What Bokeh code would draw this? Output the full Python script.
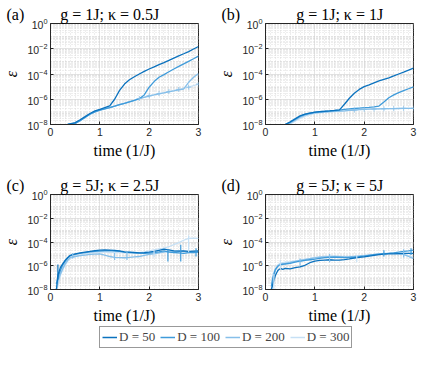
from bokeh.plotting import figure
from bokeh.layouts import column, row
from bokeh.models import FixedTicker, Legend, LegendItem, ColumnDataSource
from bokeh.embed import file_html
from bokeh.resources import INLINE

# ---------------- data ----------------
series_labels = ["D = 50", "D = 100", "D = 200", "D = 300"]
colors = ["#0B72BE", "#3F9BDA", "#86BFE9", "#C6E0F5"]

panel_titles = ["g = 1J; κ = 0.5J", "g = 1J; κ = 1J", "g = 5J; κ = 2.5J", "g = 5J; κ = 5J"]
panel_tags = ["(a)", "(b)", "(c)", "(d)"]

t_a = [0.35, 0.5, 0.6, 0.7, 0.8, 0.9, 1.0, 1.1, 1.2, 1.3, 1.4, 1.5, 1.6, 1.7, 1.8, 1.9,
       2.0, 2.1, 2.2, 2.3, 2.4, 2.5, 2.6, 2.7, 2.8, 2.9, 3.0]
a_D50 = [1e-8, 1.4e-8, 2.4e-8, 4.2e-8, 7.5e-8, 1.2e-7, 1.6e-7, 2.2e-7, 3e-7, 1e-6, 5e-6, 1.6e-5,
         3.5e-5, 6e-5, 1e-4, 1.6e-4, 2.5e-4, 3.7e-4, 5.5e-4, 8e-4, 1.2e-3, 1.8e-3, 2.7e-3, 4e-3,
         6e-3, 9.5e-3, 1.5e-2]
a_D100 = [1e-8, 1.2e-8, 2e-8, 3.6e-8, 6.5e-8, 1e-7, 1.35e-7, 1.75e-7, 2.15e-7, 2.8e-7, 3.7e-7,
          4.8e-7, 6.3e-7, 8.3e-7, 1.1e-6, 2.2e-6, 9e-6, 2.5e-5, 5.5e-5, 9e-5, 1.5e-4, 2.5e-4,
          4e-4, 6.3e-4, 1e-3, 1.6e-3, 2.6e-3]
a_D200 = [1e-8, 1.2e-8, 2e-8, 3.6e-8, 6.5e-8, 1e-7, 1.35e-7, 1.75e-7, 2.15e-7, 2.8e-7, 3.7e-7,
          4.8e-7, 6.3e-7, 8.3e-7, 1.1e-6, 1.4e-6, 1.8e-6, 2.2e-6, 2.7e-6, 3.2e-6, 3.9e-6, 4.6e-6,
          5.5e-6, 6.5e-6, 2.2e-5, 5.5e-5, 1.1e-4]
a_D300 = [1e-8, 1.3e-8, 2.1e-8, 3.8e-8, 6.8e-8, 1.05e-7, 1.4e-7, 1.8e-7, 2.2e-7, 2.9e-7, 3.8e-7,
          5e-7, 6.5e-7, 8.5e-7, 1.15e-6, 1.5e-6, 1.9e-6, 2.3e-6, 2.8e-6, 3.4e-6, 4.1e-6, 5e-6,
          6e-6, 7.3e-6, 9e-6, 1.2e-5, 1.6e-5]

t_b = [0.4, 0.5, 0.6, 0.7, 0.8, 0.9, 1.0, 1.1, 1.2, 1.3, 1.4, 1.5, 1.6, 1.7, 1.8, 1.9,
       2.0, 2.1, 2.2, 2.3, 2.4, 2.5, 2.6, 2.7, 2.8, 2.9, 3.0]
b_D50 = [1e-8, 1.6e-8, 2.8e-8, 4.8e-8, 6.5e-8, 8e-8, 9.5e-8, 1.05e-7, 1.12e-7, 1.2e-7, 1.3e-7,
         1.45e-7, 4e-7, 1.2e-6, 3e-6, 6e-6, 1e-5, 1.4e-5, 2e-5, 2.8e-5, 3.8e-5, 5e-5, 7e-5,
         1e-4, 1.4e-4, 2e-4, 2.9e-4]
b_D100 = [1e-8, 1.5e-8, 2.6e-8, 4.5e-8, 6.3e-8, 7.8e-8, 9.2e-8, 1.02e-7, 1.1e-7, 1.18e-7, 1.28e-7,
          1.4e-7, 1.55e-7, 1.7e-7, 1.85e-7, 2e-7, 2.15e-7, 2.3e-7, 2.5e-7, 2.9e-7, 6e-7, 1.3e-6,
          2.2e-6, 3.3e-6, 4.8e-6, 6.8e-6, 9.5e-6]
b_D200 = [1e-8, 1.3e-8, 2.2e-8, 3.8e-8, 5.5e-8, 7e-8, 8.2e-8, 9e-8, 9.7e-8, 1.03e-7, 1.08e-7,
          1.13e-7, 1.2e-7, 1.3e-7, 1.4e-7, 1.5e-7, 1.6e-7, 1.65e-7, 1.7e-7, 1.75e-7, 1.78e-7,
          1.8e-7, 1.82e-7, 1.85e-7, 1.87e-7, 1.9e-7, 1.9e-7]
b_D300 = [9e-9, 1.1e-8, 1.8e-8, 3e-8, 4.6e-8, 6.2e-8, 7.5e-8, 8.5e-8, 9.3e-8, 1e-7, 1.06e-7,
          1.12e-7, 1.2e-7, 1.3e-7, 1.4e-7, 1.5e-7, 1.58e-7, 1.63e-7, 1.68e-7, 1.72e-7, 1.76e-7,
          1.8e-7, 1.83e-7, 1.86e-7, 1.88e-7, 1.9e-7, 1.92e-7]

t_c = [0.12, 0.15, 0.2, 0.25, 0.3, 0.35, 0.4, 0.5, 0.6, 0.7, 0.8, 0.9, 1.0, 1.1, 1.2, 1.3, 1.4,
       1.5, 1.6, 1.7, 1.8, 1.9, 2.0, 2.1, 2.2, 2.3, 2.4, 2.5, 2.6, 2.7, 2.8, 2.9, 3.0]
c_D50 = [1e-8, 1.6e-7, 7e-7, 1.5e-6, 3e-6, 5e-6, 7.5e-6, 1e-5, 1.2e-5, 1.4e-5, 1.6e-5, 1.9e-5,
         2.1e-5, 2.2e-5, 2.1e-5, 2e-5, 1.8e-5, 1.5e-5, 1.4e-5, 1.3e-5, 1.2e-5, 1.25e-5, 1.4e-5,
         1.6e-5, 2e-5, 2.5e-5, 2.2e-5, 1.8e-5, 1.7e-5, 1.8e-5, 1.6e-5, 1.7e-5, 1.8e-5]
c_D100 = [3e-8, 1e-7, 4e-7, 1.2e-6, 2.5e-6, 4.5e-6, 7e-6, 9e-6, 1.1e-5, 1.3e-5, 1.5e-5, 1.6e-5,
          1.7e-5, 1.8e-5, 1.9e-5, 1.7e-5, 1.6e-5, 1.4e-5, 1.3e-5, 1.2e-5, 1.15e-5, 1.1e-5, 1.15e-5,
          1.3e-5, 1.5e-5, 1.8e-5, 1.4e-5, 1.3e-5, 1.2e-5, 1.1e-5, 1.3e-5, 1.3e-5, 1.4e-5]
c_D200 = [1e-8, 5e-8, 2e-7, 6e-7, 1.5e-6, 3e-6, 5e-6, 6e-6, 7e-6, 8e-6, 9e-6, 9.5e-6, 1e-5, 8e-6,
          6e-6, 5e-6, 4.8e-6, 4.7e-6, 5e-6, 5.5e-6, 6e-6, 7.5e-6, 9e-6, 1e-5, 1.2e-5, 1.4e-5,
          1.6e-5, 1.7e-5, 1.8e-5, 1.6e-5, 1.5e-5, 1.5e-5, 1.6e-5]
c_D300 = [9e-9, 2e-8, 1.5e-7, 5e-7, 1.2e-6, 2.5e-6, 4e-6, 6e-6, 8e-6, 1e-5, 1.2e-5, 1.3e-5,
          1.4e-5, 1.4e-5, 1.35e-5, 1.3e-5, 1.3e-5, 1.25e-5, 1.2e-5, 1.2e-5, 1.3e-5, 1.5e-5, 1.8e-5,
          2.2e-5, 2.6e-5, 3e-5, 4e-5, 6e-5, 9e-5, 1.4e-4, 2e-4, 2.1e-4, 2e-4]

t_d = t_c
d_D50 = [1e-8, 3e-8, 1.5e-7, 4e-7, 6e-7, 5e-7, 6e-7, 5.5e-7, 7e-7, 8e-7, 1.1e-6, 1.8e-6, 2.5e-6,
         2.8e-6, 3e-6, 3.2e-6, 3e-6, 3e-6, 3.3e-6, 3.8e-6, 4.5e-6, 5e-6, 5.5e-6, 6.5e-6, 7.5e-6,
         8.5e-6, 9.5e-6, 1e-5, 1e-5, 1.05e-5, 1.1e-5, 1.1e-5, 1.1e-5]
d_D100 = [2e-8, 1e-7, 5e-7, 9e-7, 1.2e-6, 1.3e-6, 1.4e-6, 1.6e-6, 2e-6, 2.4e-6, 2.8e-6, 3.2e-6,
          3.6e-6, 4.2e-6, 4.8e-6, 5e-6, 5.2e-6, 5e-6, 4.8e-6, 5e-6, 5.3e-6, 5.8e-6, 6.5e-6, 7.5e-6,
          8.5e-6, 9.5e-6, 1.05e-5, 1.1e-5, 1.2e-5, 1.4e-5, 1.6e-5, 1.8e-5, 2.1e-5]
d_D200 = [1e-8, 6e-8, 4e-7, 1e-6, 1.4e-6, 1.5e-6, 1.6e-6, 1.9e-6, 2.3e-6, 2.8e-6, 3.3e-6, 4e-6,
          4.6e-6, 5.2e-6, 5.6e-6, 5.8e-6, 6e-6, 5.8e-6, 5.5e-6, 5.6e-6, 6e-6, 6.5e-6, 7e-6, 7.8e-6,
          8.5e-6, 9.5e-6, 1e-5, 1.1e-5, 1.1e-5, 1e-5, 9e-6, 6e-6, 4e-6]
d_D300 = [1e-8, 2e-7, 6e-7, 1.2e-6, 1.6e-6, 1.8e-6, 2e-6, 2.2e-6, 2.6e-6, 3e-6, 3.6e-6, 4.2e-6,
          5e-6, 5.5e-6, 6e-6, 6.5e-6, 6.5e-6, 6.2e-6, 6e-6, 6e-6, 6.2e-6, 6.8e-6, 7.5e-6, 8e-6,
          9e-6, 1e-5, 1.1e-5, 1.15e-5, 1.2e-5, 1.1e-5, 9e-6, 7e-6, 5e-6]

# error bars (time, lower, upper, series index)
eb_c_t = [0.15, 0.45, 1.3, 1.55, 2.1, 2.38, 2.64, 2.8, 2.95]
eb_c_lo = [7e-8, 4e-6, 3e-6, 3e-6, 5e-6, 2.3e-6, 2.3e-6, 1.4e-5, 6e-6]
eb_c_hi = [1.3e-6, 1.2e-5, 1.2e-5, 1.5e-5, 2e-5, 2.5e-5, 6e-5, 3.5e-4, 3e-5]
eb_c_s = [0, 2, 2, 2, 3, 1, 1, 3, 1]
eb_d_t = [0.17, 0.3, 0.7, 1.3, 1.85, 2.4, 2.8, 2.95]
eb_d_lo = [1e-8, 5e-7, 1e-6, 2e-6, 2e-6, 6e-6, 5e-6, 8e-6]
eb_d_hi = [2e-7, 3e-6, 4e-6, 1e-5, 8e-6, 2e-5, 2.5e-5, 3e-5]
eb_d_s = [3, 3, 2, 2, 3, 1, 2, 1]

panels = [
    (t_a, [a_D50, a_D100, a_D200, a_D300], None),
    (t_b, [b_D50, b_D100, b_D200, b_D300], None),
    (t_c, [c_D50, c_D100, c_D200, c_D300], (eb_c_t, eb_c_lo, eb_c_hi, eb_c_s)),
    (t_d, [d_D50, d_D100, d_D200, d_D300], (eb_d_t, eb_d_lo, eb_d_hi, eb_d_s)),
]

SERIF = "Liberation Serif"
SANS = "Liberation Sans"
AX = "#262626"
NB = "\u00a0"

y_major = [10.0 ** k for k in range(-8, 1, 2)]
y_minor = [m * 10.0 ** k for k in range(-8, 0) for m in range(1, 10) if not (m == 1 and k % 2 == 0)]
x_major = [0, 1, 2, 3]
x_minor = [i / 10 for i in range(1, 30) if i % 10 != 0]


def make_panel(idx, width, height, bl, br, bt, bb, tag_offset, n_sp):
    t, ys, eb = panels[idx]
    p = figure(width=width, height=height, x_range=(0, 3), y_range=(1e-8, 1),
               y_axis_type="log", output_backend="svg", toolbar_location=None,
               min_border_left=bl, min_border_right=br, min_border_top=bt, min_border_bottom=bb,
               background_fill_color="white", border_fill_color="white")
    p.title.text = panel_tags[idx] + NB * n_sp + panel_titles[idx]
    p.title.text_font = SERIF
    p.title.text_font_size = "16px"
    p.title.text_font_style = "normal"
    p.title.align = "left"
    p.title.offset = tag_offset
    p.title.standoff = 1
    p.title.text_color = "black"

    p.xaxis.ticker = FixedTicker(ticks=x_major, minor_ticks=x_minor)
    p.yaxis.ticker = FixedTicker(ticks=y_major, minor_ticks=y_minor)
    for ax in (p.xaxis, p.yaxis):
        ax.major_label_text_font = SANS
        ax.major_label_text_font_size = "10.5px"
        ax.major_label_text_color = AX
        ax.axis_line_color = AX
        ax.major_tick_line_color = AX
        ax.minor_tick_line_color = AX
        ax.major_tick_in = 3
        ax.major_tick_out = 0
        ax.minor_tick_in = 0
        ax.minor_tick_out = 0
        ax.major_label_standoff = 3
        ax.axis_label_text_font = SERIF
        ax.axis_label_text_font_size = "16px"
        ax.axis_label_text_color = "black"
    p.xaxis.axis_label = "time (1/J)"
    p.xaxis.axis_label_text_font_style = "normal"
    p.xaxis.axis_label_standoff = 3
    p.yaxis.axis_label = "ε"
    p.yaxis.axis_label_text_font_style = "italic"
    p.yaxis.axis_label_standoff = 4

    p.outline_line_color = AX
    p.outline_line_width = 1
    p.xgrid.grid_line_color = "#d9d9d9"
    p.ygrid.grid_line_color = "#d9d9d9"
    p.xgrid.minor_grid_line_color = "#cfcfcf"
    p.ygrid.minor_grid_line_color = "#cfcfcf"
    p.xgrid.minor_grid_line_dash = "1 2"
    p.ygrid.minor_grid_line_dash = "1 2"
    p.grid.grid_line_width = 0.7
    p.grid.minor_grid_line_width = 0.7

    for k in (3, 2, 1, 0):
        p.line(t, ys[k], line_color=colors[k], line_width=1.3)
    if eb is not None:
        et, lo, hi, si = eb
        src = ColumnDataSource(dict(x=et, lo=lo, hi=hi, c=[colors[s] for s in si]))
        p.segment(x0="x", y0="lo", x1="x", y1="hi", source=src, line_color="c", line_width=1.2)
    else:
        sel = list(range(len(t) - 1, len(t) // 2, -2))
        p.scatter([t[i] for i in sel], [ys[3][i] for i in sel], marker="cross", size=5,
                  line_color=colors[2], line_width=0.8)
    return p


pa = make_panel(0, 215, 169, 46, 17, 23, 45, -44, 9)
pb = make_panel(1, 205, 169, 46, 7, 23, 45, -44, 14)
pc = make_panel(2, 215, 157, 46, 17, 25, 32, -44, 9)
pd = make_panel(3, 205, 157, 46, 7, 25, 32, -44, 14)

# legend panel (view range chosen away from the data so only the key shows)
leg = figure(width=420, height=24, x_range=(-2, -1), y_range=(-2, -1), output_backend="svg",
             toolbar_location=None, x_axis_location=None, y_axis_location=None,
             min_border=0, outline_line_color=None, background_fill_color=None,
             border_fill_color="white")
leg.grid.visible = False
items = []
for k, ys in enumerate([a_D50, a_D100, a_D200, a_D300]):
    r = leg.line(t_a, ys, line_color=colors[k], line_width=1.5)
    items.append(LegendItem(label=series_labels[k], renderers=[r]))
legend = Legend(items=items, orientation="horizontal", location=(99, 2),
                label_text_font=SERIF, label_text_font_size="13px", label_text_font_style="normal",
                glyph_width=15, glyph_height=10, label_standoff=2, spacing=5, padding=2, margin=0,
                border_line_color="#999999", border_line_width=1, border_line_alpha=1.0,
                background_fill_color="white", label_height=12)
leg.add_layout(legend, "center")

layout = column(row(pa, pb), row(pc, pd), leg)

open("out.html", "w").write(file_html(layout, INLINE))
